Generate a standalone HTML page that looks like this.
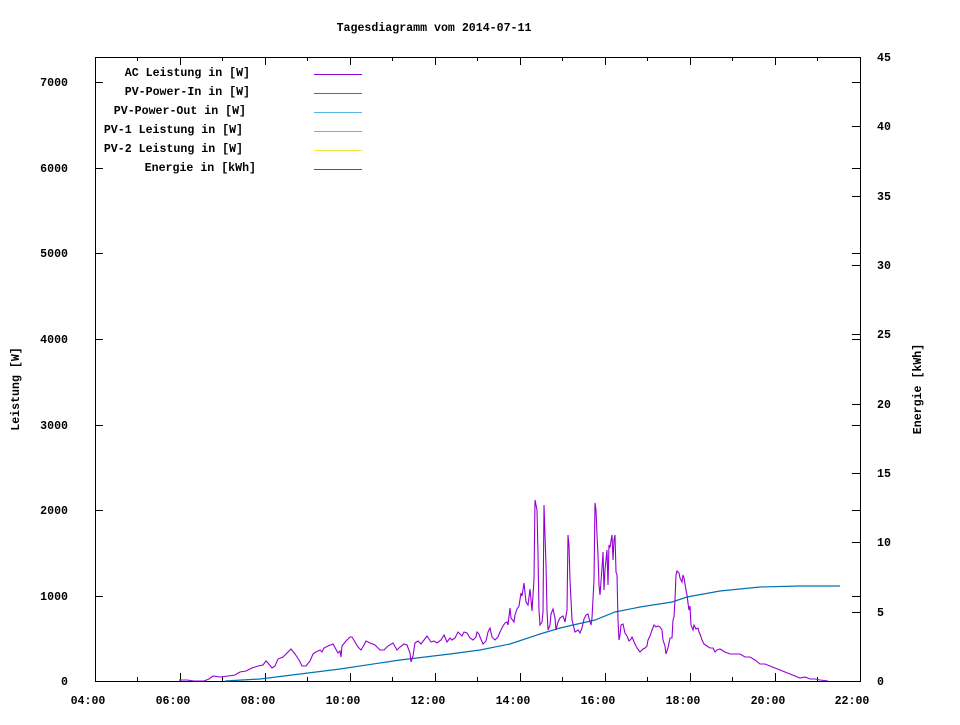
<!DOCTYPE html>
<html><head><meta charset="utf-8"><style>
html,body{margin:0;padding:0;background:#fff;}
svg text{font-family:"Liberation Mono",monospace;font-size:11.6px;font-weight:bold;fill:#000;}
</style></head><body>
<svg width="960" height="720" viewBox="0 0 960 720" xmlns="http://www.w3.org/2000/svg">
<text x="434" y="31" text-anchor="middle">Tagesdiagramm vom 2014-07-11</text>
<g stroke="#000" stroke-width="1" fill="none" shape-rendering="crispEdges">
<rect x="95.5" y="57.5" width="765" height="624"/>
<!-- left y ticks -->
<path d="M95 596.5h8M95 510.5h8M95 425.5h8M95 339.5h8M95 253.5h8M95 168.5h8M95 82.5h8"/>
<path d="M860 596.5h-8M860 510.5h-8M860 425.5h-8M860 339.5h-8M860 253.5h-8M860 168.5h-8M860 82.5h-8"/>
<!-- right y2 ticks -->
<path d="M860 612.5h-8M860 542.5h-8M860 473.5h-8M860 404.5h-8M860 334.5h-8M860 265.5h-8M860 196.5h-8M860 126.5h-8M860 57.5h-8"/>
<!-- x ticks -->
<path d="M95.5 681v-8M180.5 681v-8M265.5 681v-8M350.5 681v-8M435.5 681v-8M520.5 681v-8M605.5 681v-8M690.5 681v-8M775.5 681v-8"/>
<path d="M137.5 681v-4M222.5 681v-4M307.5 681v-4M392.5 681v-4M477.5 681v-4M562.5 681v-4M647.5 681v-4M732.5 681v-4M817.5 681v-4"/>
<path d="M95.5 57v8M180.5 57v8M265.5 57v8M350.5 57v8M435.5 57v8M520.5 57v8M605.5 57v8M690.5 57v8M775.5 57v8"/>
<path d="M137.5 57v4M222.5 57v4M307.5 57v4M392.5 57v4M477.5 57v4M562.5 57v4M647.5 57v4M732.5 57v4M817.5 57v4"/>
</g>
<g text-anchor="end">
<text x="68" y="685">0</text><text x="68" y="600">1000</text><text x="68" y="514">2000</text>
<text x="68" y="429">3000</text><text x="68" y="343">4000</text><text x="68" y="257">5000</text>
<text x="68" y="172">6000</text><text x="68" y="86">7000</text>
</g>
<g text-anchor="start">
<text x="877" y="685">0</text><text x="877" y="616">5</text><text x="877" y="546">10</text>
<text x="877" y="477">15</text><text x="877" y="408">20</text><text x="877" y="338">25</text>
<text x="877" y="269">30</text><text x="877" y="200">35</text><text x="877" y="130">40</text><text x="877" y="61">45</text>
</g>
<g text-anchor="middle">
<text x="88" y="704">04:00</text><text x="173" y="704">06:00</text><text x="258" y="704">08:00</text>
<text x="343" y="704">10:00</text><text x="428" y="704">12:00</text><text x="513" y="704">14:00</text>
<text x="598" y="704">16:00</text><text x="683" y="704">18:00</text><text x="768" y="704">20:00</text><text x="852" y="704">22:00</text>
</g>
<text transform="translate(19,389) rotate(-90)" text-anchor="middle">Leistung [W]</text>
<text transform="translate(921,389) rotate(-90)" text-anchor="middle">Energie [kWh]</text>
<g text-anchor="end">
<text x="250" y="76">AC Leistung in [W]</text>
<text x="250" y="95">PV-Power-In in [W]</text>
<text x="246" y="114">PV-Power-Out in [W]</text>
<text x="243" y="133">PV-1 Leistung in [W]</text>
<text x="243" y="152">PV-2 Leistung in [W]</text>
<text x="256" y="171">Energie in [kWh]</text>
</g>
<g stroke-width="1" shape-rendering="crispEdges">
<path d="M314 74.5h48" stroke="#9400d3"/>
<path d="M314 93.5h48" stroke="#009e73"/>
<path d="M314 112.5h48" stroke="#56b4e9"/>
<path d="M314 131.5h48" stroke="#e69f00"/>
<path d="M314 150.5h48" stroke="#f0e442"/>
<path d="M314 169.5h48" stroke="#0072b2"/>
</g>
<polyline fill="none" stroke="#0072b2" stroke-width="1.2" points="225,681 260,679 300,674 340,669 400,660 450,654 480,650 510,644 540,634 560,628 595,620 615,612 640,607 672,602 687,597 720,591 760,587 800,586 840,586"/>
<polyline fill="none" stroke="#9400d3" stroke-width="1.1" points="179,680 187,680 194,681 204,681 209,679 213,676 220,677 228,676 235,675 240,672 246,671 252,668 258,666 263,665 266,661 268,663 272,668 275,666 278,659 283,657 288,652 291,649 295,654 299,660 302,666 306,666 310,661 313,654 316,652 320,650 322,652 324,648 328,646 333,644 338,653 340,651 341,657 342,646 346,641 350,637 352,637 355,642 358,647 361,650 364,645 366,641 370,643 375,645 380,650 384,650 388,646 393,643 397,650 400,647 404,644 407,645 410,653 411,662 413,656 415,643 418,641 421,644 424,640 427,636 431,642 434,641 437,643 441,640 444,635 447,642 450,638 452,640 455,638 458,632 462,636 464,632 467,633 470,638 473,640 476,637 477,632 479,634 480,637 483,644 486,641 488,632 490,628 492,637 495,640 498,637 500,632 503,626 505,623 507,622 508,625 510,608 511,618 514,622 515,615 517,609 519,606 521,593 522,596 524,583 526,602 528,605 530,589 532,611 534,579 535,500 537,510 538,555 539,610 540,625 542,622 543,612 544,505 546,565 547,610 548,630 550,625 551,614 553,609 555,618 556,630 558,622 560,618 563,616 565,622 567,610 568,535 569,545 570,580 572,620 575,632 578,630 580,633 582,628 584,619 586,615 588,614 590,622 591,625 592,618 594,580 595,503 596,510 597,535 598,555 599,585 600,595 602,568 603,552 604,590 605,570 607,550 608,585 609,545 610,547 612,535 613,560 614,540 615,535 616,572 617,575 618,620 619,640 620,635 621,625 623,624 625,633 627,636 629,641 631,639 632,637 635,644 637,648 640,652 643,649 645,648 647,646 648,640 650,636 652,630 654,625 656,627 658,626 660,627 662,630 663,640 665,646 666,654 668,648 670,638 672,638 673,620 674,617 675,600 676,575 677,571 679,573 680,578 682,582 683,575 684,578 686,590 687,595 688,603 689,610 690,606 691,625 693,630 694,625 696,629 698,628 699,632 700,634 702,640 704,644 707,646 710,648 713,648 715,652 717,650 720,649 725,652 730,654 735,654 740,654 745,657 750,657 755,660 760,664 765,664 770,666 775,668 780,670 785,672 790,674 795,676 800,678 805,677 810,679 815,679 820,680 828,681"/>
</svg>
</body></html>
